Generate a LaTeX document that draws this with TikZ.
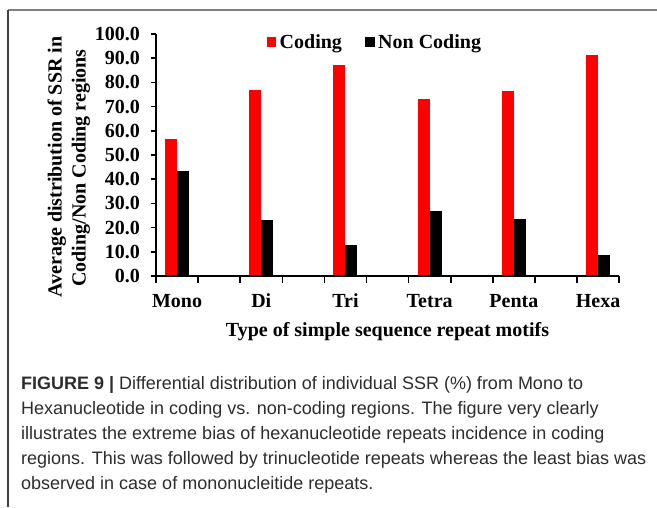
\documentclass[tikz,border=0pt]{standalone}
\usepackage{fontspec}
\setmainfont{Liberation Serif}
\newfontfamily\capfont{Liberation Sans}
\definecolor{barred}{RGB}{255,0,0}
\definecolor{captxt}{RGB}{45,45,45}
\tikzset{
  axisline/.style={line width=2pt, black},
  tickline/.style={line width=1.6pt, black},
  chartfont/.style={font=\fontsize{20}{23}\selectfont\bfseries, inner sep=0pt},
  codingbar/.style={fill=barred},
  noncodingbar/.style={fill=black},
  capline/.style={font=\capfont\fontsize{18}{21}\selectfont, text=captxt, anchor=base west, inner sep=0pt},
}
\begin{document}
\begin{tikzpicture}[x=1pt,y=-1pt]
\useasboundingbox (0,0) rectangle (657,507);
\fill[white] (0,0) rectangle (657,507);
% frame
\coordinate (ftl) at (8,10);
\coordinate (ftr) at (657,10);
\coordinate (fbl) at (8,507);
\draw[line width=1.6pt, black!50] (ftl) -- (ftr);
\draw[line width=1.4pt, black!75] (ftl) -- (fbl);
% bars
\foreach \i/\c/\n/\lab in {0/56.7/43.3/Mono, 2/76.7/23.3/Di, 4/87.1/12.9/Tri, 6/73.2/26.8/Tetra, 8/76.6/23.4/Penta, 10/91.2/8.8/Hexa}{
  \pgfmathsetmacro{\cx}{156+(\i+0.5)*42.1}
  \fill[codingbar] (\cx-12,276) rectangle (\cx,276-\c*2.42);
  \fill[noncodingbar] (\cx,276) rectangle (\cx+12,276-\n*2.42);
  \node[chartfont, anchor=base] (cat\i) at (\cx,307) {\lab};
}
% axes
\coordinate (O) at (156,276);
\coordinate (ytop) at (156,34);
\coordinate (xend) at (619.1,276);
\draw[axisline] (ytop) -- (O) -- (xend);
\foreach \v/\t in {0/0.0,1/10.0,2/20.0,3/30.0,4/40.0,5/50.0,6/60.0,7/70.0,8/80.0,9/90.0,10/100.0}{
  \draw[tickline] (150.5,276-\v*24.2) -- (156,276-\v*24.2);
  \node[chartfont, anchor=east] (yl\v) at (140,276-\v*24.2) {\t};
}
\foreach \k in {0,...,11}{
  \draw[tickline] (156+\k*42.1,276) -- (156+\k*42.1,282.5);
}
% legend
\fill[codingbar] (266.5,37) rectangle (275.5,46.5);
\node[chartfont, anchor=base west] (lc) at (279.5,48) {Coding};
\fill[noncodingbar] (365,37) rectangle (374.5,46.5);
\node[chartfont, anchor=base west] (lnc) at (378,48) {Non Coding};
% axis titles
\node[chartfont, rotate=90, anchor=base] (yt1) at (61.5,167) {Average distribution of SSR in};
\node[chartfont, rotate=90, anchor=base] (yt2) at (85.5,168) {Coding/Non Coding regions};
\node[chartfont, anchor=base] (xt) at (387.5,336) {Type of simple sequence repeat motifs};
% caption
\node[capline] (c1) at (21,389) {\textbf{FIGURE 9 |} Differential distribution of individual SSR (\%) from Mono to};
\node[capline] (c2) at (21,414) {Hexanucleotide in coding vs. non-coding regions. The figure very clearly};
\node[capline] (c3) at (21,439) {illustrates the extreme bias of hexanucleotide repeats incidence in coding};
\node[capline] (c4) at (21,464) {regions. This was followed by trinucleotide repeats whereas the least bias was};
\node[capline] (c5) at (21,489) {observed in case of mononucleitide repeats.};
\end{tikzpicture}
\end{document}
